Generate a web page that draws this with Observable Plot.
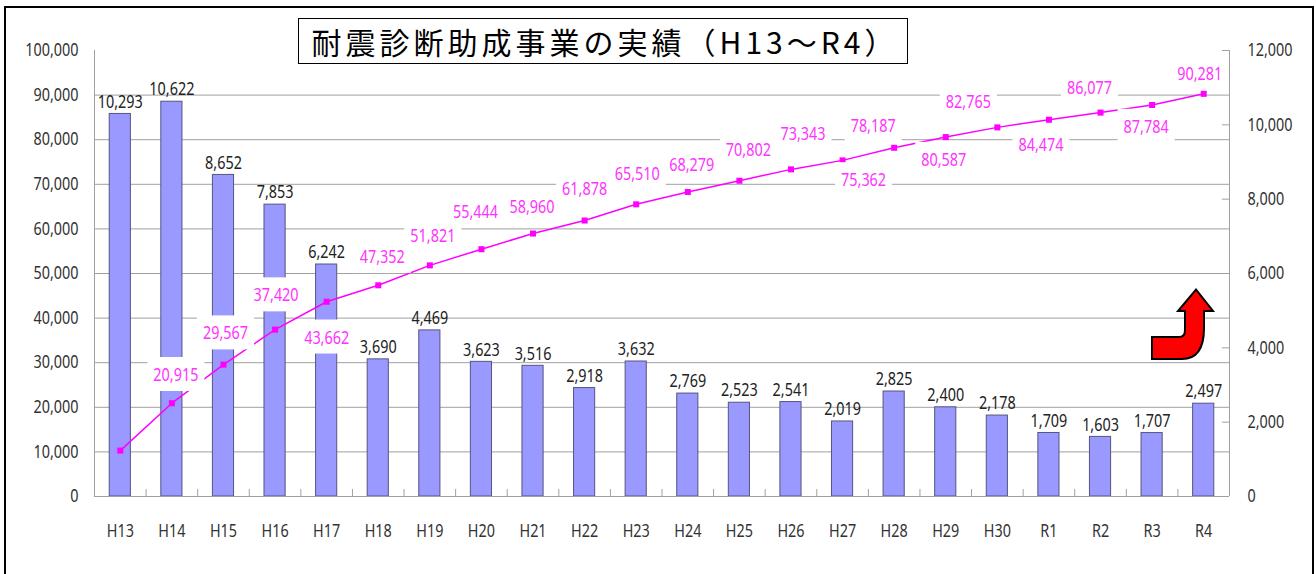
<!DOCTYPE html>
<html>
<head>
<meta charset="utf-8">
<script src="https://cdn.jsdelivr.net/npm/d3@7"></script>
<script src="https://cdn.jsdelivr.net/npm/@observablehq/plot@0.6"></script>
<style>
  html, body { margin: 0; padding: 0; background: #fff; overflow: hidden; }
  #wrap { position: relative; width: 1316px; height: 574px; overflow: hidden; }
  #frame { position: absolute; left: 4px; top: 6px; width: 1310px; height: 620px; border: 2px solid #000; box-sizing: border-box; pointer-events: none; }
  #title { position: absolute; left: 298px; top: 18px; width: 610px; height: 46px; border: 1.5px solid #000; box-sizing: border-box;
           display: flex; align-items: center; justify-content: center; background: #fff; padding-left: 4px;
           font-family: "Noto Sans CJK JP", "Noto Sans", sans-serif; font-size: 30px; letter-spacing: 4px; color: #000; white-space: nowrap; }
  #chart { position: absolute; left: 0; top: 0; }
  #arrow { position: absolute; left: 0; top: 0; pointer-events: none; }
</style>
</head>
<body>
<div id="wrap">
  <div id="chart"></div>
  <div id="frame"></div>
  <div id="title">耐震診断助成事業の実績（H13～R4）</div>
  <svg id="arrow" width="1316" height="574">
    <path d="M1152,337 L1179,337 Q1185,337 1185,330 L1185,311 L1178,311 L1196,289.5 L1213,311 L1204,311 L1204,328 Q1204,359 1182,359 L1152,359 Z"
          fill="#ff0000" stroke="#000" stroke-width="2" stroke-linejoin="miter"/>
  </svg>
</div>
<script>
// ---- data ----
const years = ["H13","H14","H15","H16","H17","H18","H19","H20","H21","H22","H23","H24","H25","H26","H27","H28","H29","H30","R1","R2","R3","R4"];
const annualCounts = [10293,10622,8652,7853,6242,3690,4469,3623,3516,2918,3632,2769,2523,2541,2019,2825,2400,2178,1709,1603,1707,2497];
const cumulativeCounts = [10293,20915,29567,37420,43662,47352,51821,55444,58960,61878,65510,68279,70802,73343,75362,78187,80587,82765,84474,86077,87784,90281];
const leftTicks = [0,10000,20000,30000,40000,50000,60000,70000,80000,90000,100000];
const rightTicks = [0,2000,4000,6000,8000,10000,12000];
const gridTicks = [10000,20000,30000,40000,50000,60000,70000,80000,90000];

// ---- layout / style ----
const W = 1316, H = 574, ML = 94, MR = 87, MT = 50, MB = 78;
const step = (W - ML - MR) / years.length;
const K = 100000 / 12000; // right axis -> left axis
const fmt = d3.format(",");
const MAG = "#ff00ff";
const LABEL_MAG = "#ff33ff";
const GRID = "#a0a0a0";
const FS = 18;          // font size
const NARROW = 0.8;     // horizontal squeeze to mimic the narrow reference font
// label placement (pixel offsets) for the cumulative labels, as in the reference
const labelOffsets = {
  H14:[4,-28], H15:[2,-31], H16:[1,-34], H17:[0,36], H18:[4,-28], H19:[3,-29], H20:[-6,-37],
  H21:[-1,-26], H22:[0,-31], H23:[1,-30], H24:[4,-27], H25:[9,-30], H26:[12,-35], H27:[21,20],
  H28:[-21,-22], H29:[-2,23], H30:[-29,-25], R1:[-8,25], R2:[-11,-24], R3:[-6,22], R4:[-4,-20]
};

const rows = years.map((y, i) => ({year: y, annual: annualCounts[i], cum: cumulativeCounts[i]}));

const cumLabelMarks = rows.filter(d => labelOffsets[d.year]).map(d =>
  Plot.text([d], {
    x: "year", y: "cum", text: r => fmt(r.cum),
    dx: labelOffsets[d.year][0], dy: labelOffsets[d.year][1],
    fill: LABEL_MAG, fontSize: FS, lineAnchor: "middle", textAnchor: "middle",
    ariaDescription: "cum"
  })
);

const chart = Plot.plot({
  width: W, height: H,
  marginLeft: ML, marginRight: MR, marginTop: MT, marginBottom: MB,
  style: {fontFamily: "'Noto Sans', sans-serif", fontSize: FS + "px", color: "#333", background: "transparent"},
  x: {type: "band", domain: years, paddingInner: 0.59, paddingOuter: 0.295, round: false},
  y: {domain: [0, 100000]},
  marks: [
    Plot.ruleY(gridTicks, {stroke: GRID, strokeWidth: 1}),
    Plot.barY(rows, {x: "year", y: d => d.annual * K, fill: "#9999ff", stroke: "#555580", strokeWidth: 1}),
    Plot.ruleY([0], {stroke: GRID}),
    Plot.ruleX([years[0]], {dx: -step / 2, stroke: GRID}),
    Plot.ruleX([years[years.length - 1]], {dx: step / 2, stroke: GRID}),
    Plot.ruleX(years.slice(0, -1), {x: d => d, dx: step / 2, insetTop: (H - MT - MB) - 7, stroke: GRID}),
    Plot.tickY(rightTicks.map(t => t * K), {y: d => d, insetLeft: (W - ML - MR) - 7, stroke: GRID}),
    Plot.line(rows, {x: "year", y: "cum", stroke: MAG, strokeWidth: 1.5}),
    Plot.dot(rows, {x: "year", y: "cum", symbol: "square", r: 3.4, fill: MAG, stroke: "none"}),
    Plot.text(rows, {x: "year", y: d => d.annual * K, text: d => fmt(d.annual), dy: -12, lineAnchor: "middle", fontSize: FS, fill: "#222"}),
    Plot.axisY(leftTicks, {anchor: "left", tickSize: 0, tickPadding: 16, tickFormat: fmt, label: null, fontSize: FS}),
    Plot.axisY(rightTicks.map(t => t * K), {anchor: "right", tickSize: 0, tickPadding: 18, tickFormat: v => fmt(Math.round(v / K)), label: null, fontSize: FS}),
    Plot.axisX({tickSize: 0, tickPadding: 28, label: null, fontSize: FS}),
    ...cumLabelMarks
  ]
});

document.getElementById("chart").append(chart);

// narrow the glyphs (real text kept)
chart.querySelectorAll("text").forEach(t => {
  const len = t.getComputedTextLength();
  if (len > 0) {
    t.setAttribute("textLength", (len * NARROW).toFixed(2));
    t.setAttribute("lengthAdjust", "spacingAndGlyphs");
  }
});

// white boxes behind the cumulative labels (drawn under all label texts)
const svgNS = "http://www.w3.org/2000/svg";
const groups = Array.from(chart.querySelectorAll('g[aria-description="cum"]'));
if (groups.length) {
  const holder = document.createElementNS(svgNS, "g");
  groups[0].parentNode.insertBefore(holder, groups[0]);
  groups.forEach(g => {
    const bg = document.createElementNS(svgNS, "g");
    const tr = g.getAttribute("transform");
    if (tr) bg.setAttribute("transform", tr);
    g.querySelectorAll("text").forEach(t => {
      const bb = t.getBBox();
      const cx = bb.x + bb.width / 2;
      const cy = bb.y + bb.height / 2;
      const w = t.getComputedTextLength() + 12;
      const r = document.createElementNS(svgNS, "rect");
      r.setAttribute("x", cx - w / 2);
      r.setAttribute("y", cy - 17);
      r.setAttribute("width", w);
      r.setAttribute("height", 34);
      r.setAttribute("fill", "#fff");
      const tt = t.getAttribute("transform");
      if (tt) r.setAttribute("transform", tt);
      bg.append(r);
    });
    holder.append(bg);
  });
}
</script>
</body>
</html>
